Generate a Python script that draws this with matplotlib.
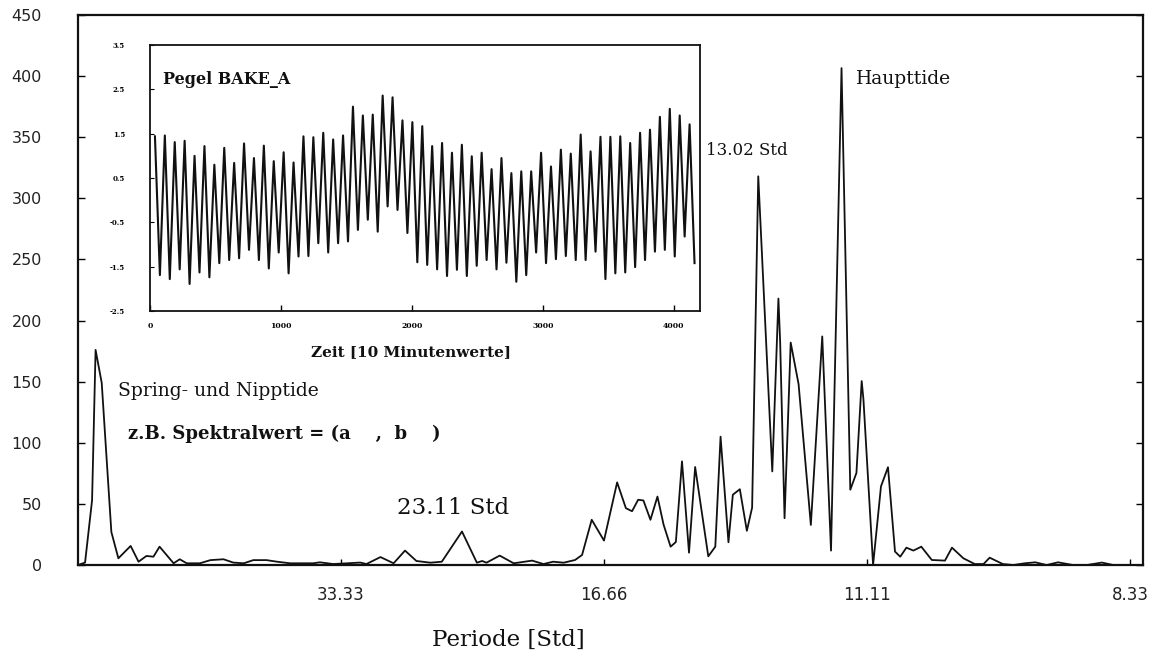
import numpy as np
import matplotlib
matplotlib.use('Agg')
import matplotlib.pyplot as plt

# Spektrum: Frequenz [1/Std] und Spektralwert
freq = [0.0000, 0.0008, 0.0016, 0.0020, 0.0027, 0.0038, 0.0046, 0.0060, 0.0069, 0.0078,
        0.0086, 0.0093, 0.0101, 0.0109, 0.0116, 0.0124, 0.0139, 0.0151, 0.0166, 0.0177,
        0.0189, 0.0200, 0.0215, 0.0227, 0.0242, 0.0268, 0.0276, 0.0291, 0.0307, 0.0322,
        0.0329, 0.0345, 0.0360, 0.0373, 0.0386, 0.0402, 0.0415, 0.0438, 0.0455, 0.0461,
        0.0466, 0.0481, 0.0497, 0.0518, 0.0531, 0.0542, 0.0554, 0.0567, 0.0575, 0.0586,
        0.0600, 0.0615, 0.0625, 0.0632, 0.0639, 0.0645, 0.0653, 0.0661, 0.0668, 0.0676,
        0.0682, 0.0689, 0.0697, 0.0704, 0.0719, 0.0727, 0.0733, 0.0742, 0.0747, 0.0755,
        0.0763, 0.0769, 0.0776, 0.0792, 0.0799, 0.0801, 0.0806, 0.0813, 0.0822, 0.0836,
        0.0849, 0.0859, 0.0871, 0.0881, 0.0888, 0.0894, 0.0896, 0.0907, 0.0916, 0.0924,
        0.0932, 0.0938, 0.0945, 0.0953, 0.0962, 0.0974, 0.0989, 0.0997, 0.1010, 0.1023,
        0.1033, 0.1040, 0.1055, 0.1067, 0.1080, 0.1092, 0.1105, 0.1118, 0.1135, 0.1151,
        0.1168, 0.1181, 0.1211]
spek = [0, 2, 53, 176, 149, 27, 5.5, 15.6, 2.7, 7.4,
        6.8, 15, 8.2, 1.4, 4.7, 1.4, 1.4, 4, 4.7, 2,
        1.4, 4, 4, 2.7, 1.4, 1.4, 2.2, 0.8, 1.4, 2,
        0.8, 6.5, 1.4, 11.8, 3.3, 1.9, 2.7, 27.4, 1.9, 3.3,
        1.9, 7.7, 1.4, 3.6, 0.8, 2.7, 1.9, 4.1, 8.2, 37,
        20, 67.6, 46.5, 44, 53.4, 52.8, 37, 56, 33, 15,
        18.8, 84.8, 10.1, 80.2, 7.1, 15, 105, 18.6, 57.5, 62,
        28, 47, 318, 76.6, 218, 182, 38.3, 182, 148, 32.8,
        187, 11.8, 406.5, 61.6, 75.3, 150.5, 135.5, 0, 64.3, 80,
        11, 6.8, 14.2, 11.8, 15, 4.1, 3.6, 14.2, 5.5, 0.8,
        0.8, 6, 0.8, 0, 1.4, 2.2, 0, 2.2, 0, 0,
        2, 0, 0]

x_ticks = [0.03, 0.06, 0.09, 0.12]
x_labels = ['33.33', '16.66', '11.11', '8.33']
y_ticks = [0, 50, 100, 150, 200, 250, 300, 350, 400, 450]

# Pegel BAKE_A: Hoch- und Niedrigwasser je Tide
hochwasser = [1.44, 1.46, 1.31, 1.34, 1.00, 1.22, 0.80, 1.18, 0.84, 1.28,
              0.95, 1.23, 0.88, 1.08, 0.85, 1.44, 1.42, 1.52, 1.37, 1.46,
              2.11, 1.91, 1.93, 2.36, 2.32, 1.80, 1.76, 1.67, 1.22, 1.29,
              1.07, 1.25, 0.99, 1.07, 0.70, 0.95, 0.61, 0.65, 0.65, 1.07,
              0.76, 1.14, 1.05, 1.48, 1.10, 1.43, 1.43, 1.44, 1.29, 1.52,
              1.59, 1.88, 2.06, 1.91, 1.71]
niedrigwasser = [-1.69, -1.78, -1.56, -1.89, -1.63, -1.74, -1.42, -1.35, -1.31, -1.12,
                 -1.35, -1.54, -1.18, -1.65, -1.27, -1.26, -0.97, -1.18, -0.97, -0.93,
                 -0.67, -0.44, -0.71, -0.14, -0.22, -0.74, -1.40, -1.46, -1.56, -1.71,
                 -1.57, -1.71, -1.48, -1.35, -1.56, -1.41, -1.84, -1.69, -1.18, -1.42,
                 -1.33, -1.26, -1.35, -1.35, -1.16, -1.78, -1.65, -1.63, -1.51, -1.35,
                 -1.16, -1.12, -1.27, -0.82, -1.42]
t_start = 38        # erstes Hochwasser [10-Minutenwerte]
halbe_tide = 37.8   # Abstand Hoch-/Niedrigwasser [10-Minutenwerte]
inset_yticks = [-2.5, -1.5, -0.5, 0.5, 1.5, 2.5, 3.5]
inset_xticks = [0, 1000, 2000, 3000, 4000]

serif = 'DejaVu Serif'

fig = plt.figure(figsize=(11.58, 6.63), dpi=100)
ax = fig.add_axes([0.0674, 0.1478, 0.9197, 0.8296])

ax.plot(freq, spek, color='#111111', lw=1.3)
ax.set_xlim(0, 0.1215)
ax.set_ylim(0, 450)
ax.set_yticks(y_ticks)
ax.set_xticks(x_ticks)
ax.set_xticklabels(x_labels, fontsize=12, color='#222222')
for lab in ax.get_yticklabels():
    lab.set_fontsize(11.5)
    lab.set_color('#222222')
ax.tick_params(axis='y', direction='in', length=5, width=1, pad=26, right=True)
ax.tick_params(axis='x', direction='in', length=4, width=1, pad=15)
for s in ax.spines.values():
    s.set_linewidth(1.6)
    s.set_color('#111111')

ax.text(0.0046, 142, 'Spring- und Nipptide', family=serif, fontsize=13.5,
        va='center', ha='left', color='#111111')
ax.text(0.0057, 107, 'z.B. Spektralwert = (a    ,  b    )', family=serif,
        fontsize=13, fontweight='bold', va='center', ha='left', color='#111111')
ax.text(0.0364, 47, '23.11 Std', family=serif, fontsize=16.5,
        va='center', ha='left', color='#111111')
ax.text(0.0716, 339, '13.02 Std', family=serif, fontsize=12,
        va='center', ha='left', color='#111111')
ax.text(0.0887, 398, 'Haupttide', family=serif, fontsize=13.5,
        va='center', ha='left', color='#111111')
fig.text(0.4387, 0.0347, 'Periode [Std]', family=serif, fontsize=16.5,
         va='center', ha='center', color='#111111')

# Einschub: Zeitreihe
n = len(hochwasser)
t = np.empty(2 * n)
pegel = np.empty(2 * n)
t[0::2] = t_start + 2 * halbe_tide * np.arange(n)
t[1::2] = t_start + halbe_tide + 2 * halbe_tide * np.arange(n)
pegel[0::2] = hochwasser
pegel[1::2] = niedrigwasser

axi = fig.add_axes([0.1295, 0.5309, 0.4750, 0.4012])
axi.set_facecolor('white')
axi.plot(t, pegel, color='#111111', lw=1.5)
axi.set_xlim(0, 4200)
axi.set_ylim(-2.5, 3.5)
axi.set_xticks(inset_xticks)
axi.set_yticks(inset_yticks)
axi.set_xticklabels([str(v) for v in inset_xticks], fontsize=5.5,
                    fontweight='bold', family=serif)
axi.set_yticklabels([f'{v:.1f}' for v in inset_yticks], fontsize=5,
                    fontweight='bold', family=serif)
axi.tick_params(axis='x', direction='in', length=4, width=1, pad=8)
axi.tick_params(axis='y', direction='in', length=3, width=0.8, pad=18)
for s in axi.spines.values():
    s.set_linewidth(1.3)
    s.set_color('#111111')
axi.text(0.024, 0.87, 'Pegel BAKE_A', transform=axi.transAxes, family=serif,
         fontsize=11.5, fontweight='bold', va='center', ha='left', color='#111111')
axi.text(0.475, -0.154, 'Zeit [10 Minutenwerte]', transform=axi.transAxes,
         family=serif, fontsize=11, fontweight='bold', va='center', ha='center',
         color='#111111')

fig.savefig('out.png', dpi=100, facecolor='white')
